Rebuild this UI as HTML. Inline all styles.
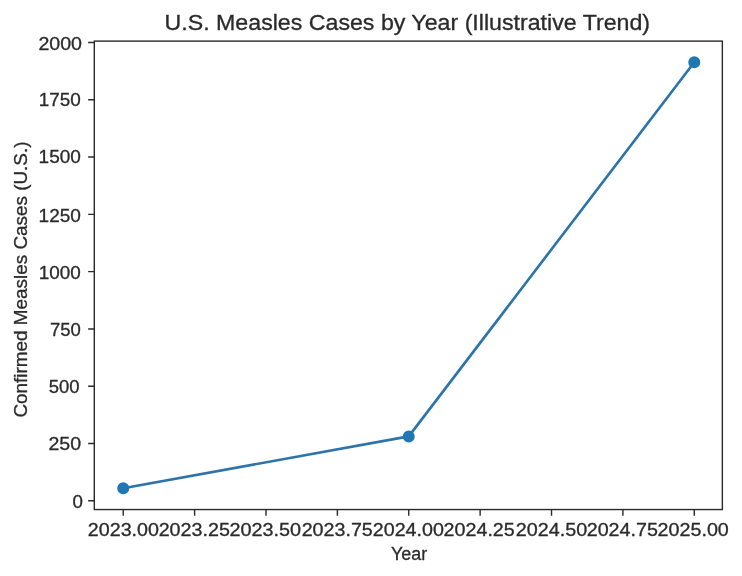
<!DOCTYPE html>
<html><head><meta charset="utf-8"><title>U.S. Measles Cases by Year</title><style>html,body{margin:0;padding:0;background:#fff;}svg{display:block;will-change:transform;filter:blur(0.30px);}text{font-family:"Liberation Sans",sans-serif;fill:#2a2a2a;stroke:#2a2a2a;stroke-width:0.30px;}</style></head><body>
<svg width="742" height="576" viewBox="0 0 742 576">
<rect x="0" y="0" width="742" height="576" fill="#fff"/>
<polyline points="123.23,488.20 408.75,436.41 694.27,62.19" fill="none" stroke="#2c74aa" stroke-width="2.637" stroke-linejoin="round"/>
<circle cx="123.23" cy="488.20" r="5.123" fill="#1f77b4" stroke="#1f77b4" stroke-width="1.758"/>
<circle cx="408.75" cy="436.41" r="5.123" fill="#1f77b4" stroke="#1f77b4" stroke-width="1.758"/>
<circle cx="694.27" cy="62.19" r="5.123" fill="#1f77b4" stroke="#1f77b4" stroke-width="1.758"/>
<rect x="94.31" y="41.12" width="628.04" height="468.43" fill="none" stroke="#2a2a2a" stroke-width="1.406"/>
<path d="M123.23 509.55V515.70M194.61 509.55V515.70M265.99 509.55V515.70M337.37 509.55V515.70M408.75 509.55V515.70M480.13 509.55V515.70M551.51 509.55V515.70M622.89 509.55V515.70M694.27 509.55V515.70M94.31 500.80H88.16M94.31 443.51H88.16M94.31 386.22H88.16M94.31 328.93H88.16M94.31 271.64H88.16M94.31 214.35H88.16M94.31 157.06H88.16M94.31 99.77H88.16M94.31 42.48H88.16" stroke="#2a2a2a" stroke-width="1.406" fill="none"/>
<text x="87.81" y="536" font-size="18.62" textLength="71.15" lengthAdjust="spacingAndGlyphs">2023.00</text>
<text x="158.65" y="536" font-size="18.62" textLength="71.22" lengthAdjust="spacingAndGlyphs">2023.25</text>
<text x="229.48" y="536" font-size="18.62" textLength="71.62" lengthAdjust="spacingAndGlyphs">2023.50</text>
<text x="301.70" y="536" font-size="18.62" textLength="71.10" lengthAdjust="spacingAndGlyphs">2023.75</text>
<text x="372.78" y="536" font-size="18.62" textLength="71.10" lengthAdjust="spacingAndGlyphs">2024.00</text>
<text x="443.61" y="536" font-size="18.62" textLength="71.15" lengthAdjust="spacingAndGlyphs">2024.25</text>
<text x="515.81" y="536" font-size="18.62" textLength="71.40" lengthAdjust="spacingAndGlyphs">2024.50</text>
<text x="586.69" y="536" font-size="18.62" textLength="71.22" lengthAdjust="spacingAndGlyphs">2024.75</text>
<text x="657.57" y="536" font-size="18.62" textLength="71.29" lengthAdjust="spacingAndGlyphs">2025.00</text>
<text x="72.47" y="508" font-size="18.62" textLength="10.41" lengthAdjust="spacingAndGlyphs">0</text>
<text x="48.50" y="450" font-size="18.62" textLength="32.63" lengthAdjust="spacingAndGlyphs">250</text>
<text x="48.81" y="393" font-size="18.62" textLength="30.83" lengthAdjust="spacingAndGlyphs">500</text>
<text x="49.98" y="336" font-size="18.62" textLength="30.90" lengthAdjust="spacingAndGlyphs">750</text>
<text x="38.87" y="279" font-size="18.62" textLength="41.98" lengthAdjust="spacingAndGlyphs">1000</text>
<text x="38.63" y="222" font-size="18.62" textLength="42.33" lengthAdjust="spacingAndGlyphs">1250</text>
<text x="38.57" y="163" font-size="18.62" textLength="42.33" lengthAdjust="spacingAndGlyphs">1500</text>
<text x="38.79" y="106" font-size="18.62" textLength="42.08" lengthAdjust="spacingAndGlyphs">1750</text>
<text x="38.40" y="50" font-size="18.62" textLength="43.64" lengthAdjust="spacingAndGlyphs">2000</text>
<text x="164.57" y="30" font-size="22.35" textLength="485.48" lengthAdjust="spacingAndGlyphs">U.S. Measles Cases by Year (Illustrative Trend)</text>
<text x="390.90" y="560" font-size="18.62" textLength="36.22" lengthAdjust="spacingAndGlyphs">Year</text>
<text transform="translate(27.09 417.55) rotate(-90)" font-size="18.62" textLength="276.03" lengthAdjust="spacingAndGlyphs">Confirmed Measles Cases (U.S.)</text>
</svg>
</body></html>
